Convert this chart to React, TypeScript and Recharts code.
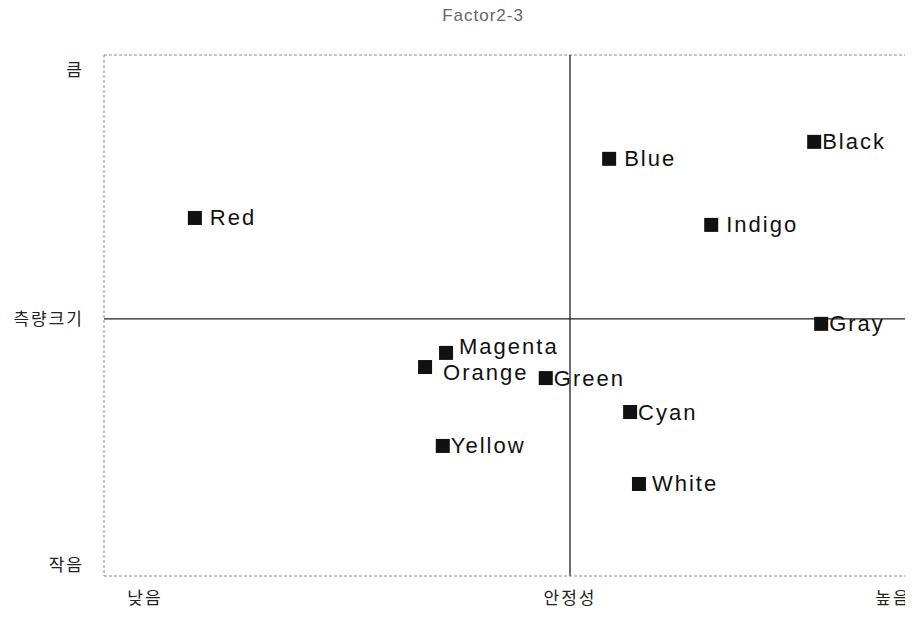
import React from "react";
import { ScatterChart, Scatter, XAxis, YAxis, ReferenceLine } from "recharts";

// colour names and their positions on the two factors
const names = ["Red", "Blue", "Black", "Indigo", "Gray", "Magenta", "Orange", "Green", "Cyan", "Yellow", "White"];
const xValues = [-0.805, 0.084, 0.524, 0.303, 0.539, -0.266, -0.311, -0.052, 0.129, -0.273, 0.148];
const yValues = [0.393, 0.623, 0.689, 0.366, -0.019, -0.132, -0.187, -0.23, -0.362, -0.494, -0.642];

const xTickValues = [-0.912, 0, 0.693];
const xTickLabels = ["낮음", "안정성", "높음"];
const yTickValues = [-0.957, 0, 0.969];
const yTickLabels = ["작음", "측량크기", "큼"];
const yTop = 1.027;

const data = names.map((name, i) => ({ name, x: xValues[i], y: yValues[i] }));

// label placement tweaks, relative to marker centre
const labelOffsets: Record<string, { dx: number; dy: number }> = {
  Red: { dx: 15, dy: 0 },
  Blue: { dx: 15, dy: 0 },
  Indigo: { dx: 15, dy: 0 },
  White: { dx: 13, dy: 0 },
  Magenta: { dx: 13, dy: -6 },
  Orange: { dx: 18, dy: 5 },
};

const labelFont = "'Liberation Sans', Arial, sans-serif";
const koreanFont = "'Noto Sans CJK KR', sans-serif";

function Marker(props: any) {
  const { cx, cy, payload } = props;
  const off = labelOffsets[payload.name] ?? { dx: 8, dy: 0 };
  return (
    <g>
      <rect x={cx - 7} y={cy - 7} width={14} height={14} fill="#111" />
      <text
        x={cx + off.dx}
        y={cy + off.dy}
        dominantBaseline="central"
        fontFamily={labelFont}
        fontSize={22}
        letterSpacing={2}
        fill="#111"
      >
        {payload.name}
      </text>
    </g>
  );
}

const border = { stroke: "#8a8a8a", strokeDasharray: "3 2", strokeWidth: 1 };
const tickStyle = { fontFamily: koreanFont, fontSize: 17, letterSpacing: 2, fill: "#222" };

export default function App() {
  return (
    <div style={{ position: "relative", width: 913, height: 617, overflow: "hidden", margin: -8, background: "#fff" }}>
      <div
        style={{
          position: "absolute",
          left: 0,
          width: 966,
          top: 6,
          textAlign: "center",
          fontFamily: labelFont,
          fontSize: 17,
          letterSpacing: 1,
          color: "#666",
          fontWeight: 300,
        }}
      >
        Factor2-3
      </div>
      <ScatterChart width={1050} height={617} margin={{ top: 55, right: 14, bottom: 0, left: 0 }}>
        <XAxis
          type="number"
          dataKey="x"
          domain={[-1, 1]}
          ticks={xTickValues}
          tickFormatter={(v: number) => xTickLabels[xTickValues.indexOf(v)] ?? ""}
          height={41}
          tickSize={0}
          tickMargin={16}
          axisLine={border}
          tick={tickStyle}
          allowDataOverflow
        />
        <YAxis
          type="number"
          dataKey="y"
          domain={[-1, yTop]}
          ticks={yTickValues}
          tickFormatter={(v: number) => yTickLabels[yTickValues.indexOf(v)] ?? ""}
          width={104}
          tickSize={0}
          tickMargin={20}
          axisLine={border}
          tick={tickStyle}
          allowDataOverflow
        />
        <ReferenceLine y={yTop} {...border} />
        <ReferenceLine x={0} stroke="#222" strokeWidth={1.3} />
        <ReferenceLine y={0} stroke="#222" strokeWidth={1.3} />
        <Scatter data={data} shape={Marker} isAnimationActive={false} />
      </ScatterChart>
    </div>
  );
}
